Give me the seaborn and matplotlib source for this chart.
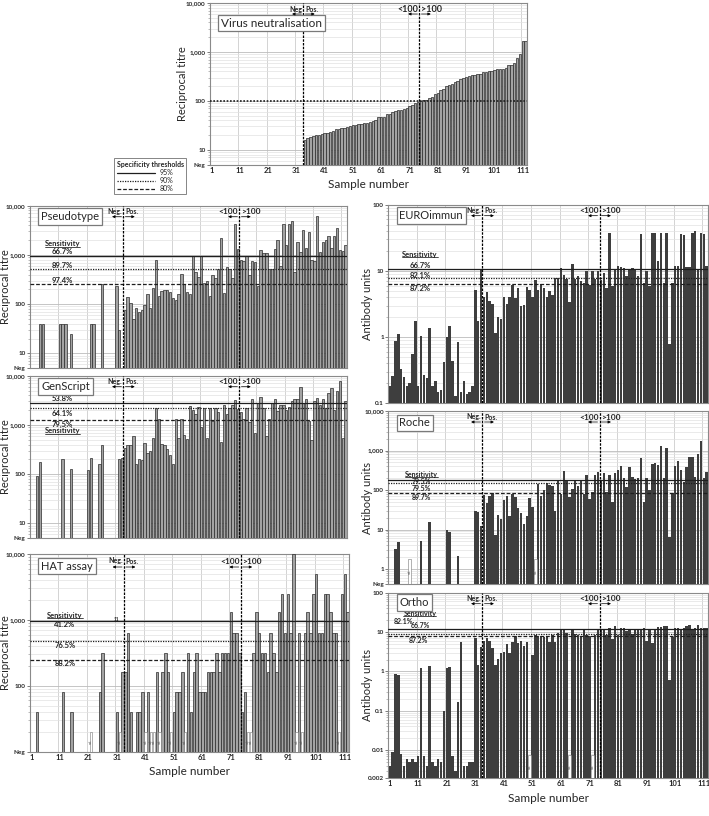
import numpy as np
import pandas as pd
import matplotlib
matplotlib.use("Agg")
import matplotlib.pyplot as plt
import seaborn as sns
from matplotlib.ticker import FixedLocator, NullFormatter, LogLocator
from matplotlib.lines import Line2D

sns.set_style("white")
plt.rcParams["font.family"] = ["Lato", "DejaVu Sans"]

N = None
sample_number = list(range(1, 113))
x_ticks = [1, 11, 21, 31, 41, 51, 61, 71, 81, 91, 101, 111]

# ---------------- data (samples 1-33 negative, 34-112 positive) -------------
vn_neg = [N, N, N, N, N, N, N, N, N, N, N, N, N, N, N, N, N, N, N, N,
          N, N, N, N, N, N, N, N, N, N, N, N, N]
vn_pos = [16, 17, 18, 19.5, 20, 20.5, 21, 22, 22.5, 23,
          24, 26, 27, 27.5, 28, 29, 30, 32, 32, 33,
          34, 35, 36, 37, 38, 40, 46, 46, 47, 53,
          55, 60, 62, 65, 66, 69, 72, 78, 84, 90,
          95, 100, 104, 106, 112, 118, 140, 145, 170, 175,
          200, 210, 220, 240, 260, 280, 300, 305, 320, 330,
          335, 350, 360, 380, 395, 405, 410, 420, 440, 445,
          450, 470, 540, 550, 600, 750, 900, 1650, 1650]

pseudo_neg = [N, N, N, 40, 40, N, N, N, N, N, 40, 40, 40, N, 25, N, N, N, N, N,
              N, 40, 40, N, N, 260, N, N, N, N, 230, 30, N]
pseudo_pos = [78, 140, 105, 50, 85, 68, 75, 95, 165, 85,
              210, 800, 150, 185, 190, 195, 180, 135, 120, 165,
              410, 260, 175, 160, 950, 450, 360, 950, 270, 300,
              145, 390, 340, 520, 2200, 170, 580, 530, 340, 4200,
              1300, 780, 760, 940, 390, 760, 720, 230, 1250, 1100,
              1100, 520, 530, 1350, 2000, 600, 4300, 1600, 4200, 5000,
              460, 1800, 1150, 3200, 1400, 2900, 800, 750, 6200, 1150,
              1800, 2000, 2400, 1400, 2400, 3500, 1250, 1200, 1600]

genscript_neg = [N, N, 90, 175, N, N, N, N, N, N, N, 205, N, N, 130, N, N, N, N, N,
                 120, 210, N, N, 160, 390, N, N, N, N, N, 205, 210]
genscript_pos = [340, 390, 390, 600, 165, 205, 195, 430, 265, 300,
                 550, 2200, 1300, 410, 390, 320, 250, 165, 1300, 550,
                 1300, 640, 510, 2400, 2000, 1700, 2300, 900, 2200, 550,
                 2200, 1200, 2200, 1800, 460, 2500, 1700, 2200, 2500, 3200,
                 2100, 1800, 1350, 2200, 1150, 3300, 700, 2800, 3700, 2200,
                 600, 1300, 2800, 3300, 1900, 2500, 2600, 2000, 2300, 3000,
                 3300, 3300, 6000, 2800, 3300, 1200, 490, 3100, 3500, 2500,
                 3300, 2200, 4500, 5500, 2000, 5000, 7800, 550, 3000]

hat_neg = [N, N, 40, N, N, N, N, N, N, N, N, 80, N, N, 40, N, N, N, N, N,
           N, N, N, N, 80, 320, N, N, N, N, 40, N, 160]
hat_pos = [160, 640, 40, N, 40, 40, 80, N, 80,
           N, N, 160, N, 160, 320, 160, N, 40, 80,
           80, 160, N, 320, 40, 160, 320, 80, 80, 80,
           160, 160, 160, 320, 160, 320, 320, 320, 1300, 640,
           640, 320, 40, 80, N, N, 320, 1300, 640, 320,
           320, 160, 640, 320, 160, 1300, 2500, 640, 2500, 640,
           10000, N, 640, N, 640, 1300, 640, 2500, 5000, 640,
           640, 2500, 2500, 1300, 640, 640, N, 2500, 5000, 1300]
hat_nd = [22, 32, 41, 43, 44, 46, 50, 55, 77, 78, 94, 96, 109]

euro_neg = [0.18, 0.26, 0.88, 1.1, 0.33, 0.25, 0.18, 0.2, 0.55, 1.75,
            0.18, 1.05, 0.27, 0.24, 1.35, 0.18, 0.22, 0.15, 0.16, 0.42,
            1.0, 1.45, 0.43, 0.13, 0.83, 0.15, 0.22, 0.14, 0.15, 0.18,
            5.2, 1.75, 10.5]
euro_pos = [4.0, 4.8, 3.5, 3.2, 1.15, 2.0, 1.9, 4.0, 3.2, 4.1,
            6.2, 3.9, 5.5, 3.0, 3.1, 5.8, 5.2, 4.0, 7.3, 5.2,
            6.4, 5.5, 4.0, 4.9, 4.4, 7.8, 7.7, 11, 8.6, 7.6,
            3.4, 12.5, 7.5, 8.4, 7.1, 6.5, 10, 6.1, 9.8, 7.6,
            9.9, 7.4, 9.4, 5.6, 38, 6, 10.5, 12, 11.5, 11,
            8.5, 10.5, 11, 10.5, 8.5, 36, 6.6, 9.8, 6, 37,
            38, 14, 38, 6.5, 37, 0.8, 6.5, 12, 12, 36,
            35, 11.5, 11.3, 38, 40, 10.5, 37, 36, 12]

roche_neg = [N, N, 3.2, 4.8, N, N, N, N, N, N, N, 5.2, N, N, 15.5, N, N, N, N, N,
             10, 8.8, N, N, 2.1, N, N, N, N, N, 30, 28, 12.5]
roche_pos = [75, 48, 70, 82, 7.2, 24, 18, 57, 72, 22,
             80, 65, 35, 27, 14, 22, 64, 38, N, 140,
             70, 100, 155, 135, 125, 30, 175, 80, 300, 170,
             65, 105, 175, 130, 165, 78, 240, 60, 90, 240,
             290, 180, 270, 90, 240, 50, 270, 320, 410, 200,
             120, 390, 215, 190, 200, 640, 50, 200, 100, 460,
             470, 430, 1300, 200, 1150, 6.5, 85, 400, 550, 330,
             160, 380, 670, 670, 210, 800, 1750, 200, 280]
roche_nd = [8, 52]

ortho_neg = [0.004, 0.009, 0.87, 0.8, 0.008, 0.004, 0.006, 0.005, 0.006, 0.005,
             0.007, 1.2, 0.007, 0.004, 1.4, 0.005, 0.004, 0.006, 0.005, 0.1,
             1.25, 1.3, 0.007, 0.003, 0.17, 5.7, 0.004, 0.004, 0.005, 0.005,
             7.0, 1.45, 4.3]
ortho_pos = [5.8, 7.2, 6.0, 4.0, 1.5, 2.1, 2.9, 3.2, 5.0, 3.0,
             5.5, 8.0, 5.3, 5.8, 4.5, 5.5, N, 2.6, 8.5, 8.0,
             8.0, 7.5, 8.0, 5.5, 8.5, 5.5, 9.5, 11.5, 11, 9.5,
             N, 12, 9, 8.5, 7.5, 12, 8.5, 8.0, N, 8.5,
             11, 12, 11, 8.5, 12.5, 6.5, 14, 8.5, 13, 12.5,
             10.5, 12, 9, 11.5, 11.5, 11, 12.5, 6, 11, 5.3,
             12, 13.5, 13.5, 14.5, 14, 0.6, 7.5, 13, 13, 12,
             12.5, 14, 15, 12, 13, 15, 12.5, 13, 12.5]
ortho_nd = [50, 64, 72]

# thresholds (95% solid, 90% dotted, 80% dashed)
pseudo_thr = [950, 524, 257]
genscript_thr = [2770, 2220, 1280]
hat_thr = [960, 483, 250]
euro_thr = [10.7, 7.9, 6.45]
roche_thr = [179, 148, 85.5]
ortho_thr = [11.9, 9.07, 8.07]
vn_cutoff = 100

neg_pos_line = 33.5
titre100_line = 74.5

# ---------------- figure ----------------
W, H = 709, 816
fig = plt.figure(figsize=(W / 100, H / 100), dpi=100)

def make_ax(l, r, t, b):
    return fig.add_axes([l / W, 1 - b / H, (r - l) / W, (b - t) / H])

LIGHT = "#a3a3a3"
DARK = "#3e3e3e"
THR_STYLES = ["-", (0, (1, 1)), (0, (3, 1.5))]
underlines = []

def panel(ax, values, face, edge, lw, ylim, yticks, ylabels, nd=(), nd_top=None):
    vals = [np.nan if v is None else v for v in values]
    df = pd.DataFrame({"sample": sample_number, "value": vals})
    sns.barplot(data=df, x="sample", y="value", native_scale=True, width=0.85,
                color=face, edgecolor=edge, linewidth=lw, saturation=1,
                errorbar=None, ax=ax, zorder=3)
    if nd:
        nd_vals = [nd_top if s in nd else np.nan for s in sample_number]
        df2 = pd.DataFrame({"sample": sample_number, "value": nd_vals})
        sns.barplot(data=df2, x="sample", y="value", native_scale=True, width=0.85,
                    color="white", edgecolor="#777777", linewidth=0.4, saturation=1,
                    errorbar=None, ax=ax, zorder=3)
        for s in nd:
            ax.text(s, np.sqrt(ylim[0] * nd_top), "n.d.", rotation=90, fontsize=2.2,
                    ha="center", va="center", color="#555555", zorder=5)
    ax.set_yscale("log")
    ax.set_ylim(*ylim)
    ax.set_xlim(0.5, 112.5)
    ax.yaxis.set_major_locator(FixedLocator(yticks))
    ax.set_yticklabels(ylabels)
    ax.yaxis.set_minor_locator(LogLocator(base=10, subs=np.arange(2, 10)))
    ax.yaxis.set_minor_formatter(NullFormatter())
    ax.set_xticks(x_ticks)
    ax.set_xticks(np.arange(0.5, 113, 10), minor=True)
    ax.set_xlabel("")
    ax.set_ylabel("")
    ax.grid(axis="y", which="major", color="#bbbbbb", lw=0.6, zorder=0)
    ax.grid(axis="y", which="minor", color="#e2e2e2", lw=0.5, zorder=0)
    ax.grid(axis="x", which="minor", color="#cccccc", lw=0.6, zorder=0)
    ax.grid(axis="x", which="major", visible=False)
    ax.set_axisbelow(True)
    for sp in ax.spines.values():
        sp.set_color("#8a8a8a")
        sp.set_linewidth(0.8)
    ax.tick_params(axis="y", which="major", labelsize=4.6, length=2, width=0.6, pad=1.2,
                   left=True, color="#666666")
    ax.tick_params(axis="y", which="minor", length=1.2, width=0.4, left=True, color="#888888")
    ax.tick_params(axis="x", which="both", length=0, labelsize=5.5, pad=2)
    for t in ax.get_yticklabels() + ax.get_xticklabels():
        t.set_fontweight("bold")

def title_box(ax, text, px_from_top, fs=8.5):
    h = ax.get_position().height * H
    ax.text(0.035, 1 - px_from_top / h, text, transform=ax.transAxes, fontsize=fs,
            va="center", ha="left", zorder=6,
            bbox=dict(boxstyle="square,pad=0.25", fc="white", ec="#7a7a7a", lw=0.9))

def divider(ax, x, left, right, fs, txt_px=6, arr_px=11):
    h = ax.get_position().height * H
    tr = ax.get_xaxis_transform()
    ax.axvline(x, color="black", lw=0.9, ls=(0, (2, 1)), zorder=5)
    yt = 1 - txt_px / h
    ya = 1 - arr_px / h
    ax.text(x - 0.4, yt, left, transform=tr, ha="right", va="center", fontsize=fs,
            fontweight="bold", zorder=6)
    ax.text(x + 0.6, yt, right, transform=tr, ha="left", va="center", fontsize=fs,
            fontweight="bold", zorder=6)
    ap = dict(arrowstyle="-|>", lw=0.5, color="black", mutation_scale=4, shrinkA=0, shrinkB=0)
    ax.annotate("", xy=(x - 4, ya), xytext=(x - 0.7, ya), xycoords=tr, textcoords=tr,
                arrowprops=ap, zorder=6)
    ax.annotate("", xy=(x + 4, ya), xytext=(x + 0.7, ya), xycoords=tr, textcoords=tr,
                arrowprops=ap, zorder=6)

def thresholds(ax, thr, labels, fs=5.5):
    for v, ls in zip(thr, THR_STYLES):
        ax.axhline(v, color="#1e1e1e", lw=0.9, ls=ls, zorder=4)
    for (x, y, s) in labels:
        t = ax.text(x, y, s, fontsize=fs, fontweight="bold", ha="center", va="center",
                    zorder=6)
        if s == "Sensitivity":
            underlines.append(t)

def ylab(ax, text, px_left):
    w = ax.get_position().width * W
    ax.set_ylabel(text, fontsize=8)
    ax.yaxis.set_label_coords(-px_left / w, 0.5)

def xlab(ax, px_below):
    h = ax.get_position().height * H
    ax.set_xlabel("Sample number", fontsize=8.5)
    ax.xaxis.set_label_coords(0.5, -px_below / h)

titre_ticks = [5, 10, 100, 1000, 10000]
titre_labels = ["Neg", "10", "100", "1,000", "10,000"]

# Virus neutralisation
ax_vn = make_ax(210, 527, 3, 164.5)
panel(ax_vn, vn_neg + vn_pos, LIGHT, "#2a2a2a", 0.5, (5, 10000), titre_ticks, titre_labels)
ax_vn.axhline(vn_cutoff, color="#1e1e1e", lw=1.2, ls=(0, (1, 1)), zorder=4)
title_box(ax_vn, "Virus neutralisation", 20)
divider(ax_vn, neg_pos_line, "Neg", "Pos.", 5)
divider(ax_vn, titre100_line, "<100", ">100", 6.5)
ax_vn.tick_params(axis="x", labelbottom=True)
ylab(ax_vn, "Reciprocal titre", 22)
xlab(ax_vn, 14)

# Pseudotype
ax_ps = make_ax(30, 347, 205.7, 368.3)
panel(ax_ps, pseudo_neg + pseudo_pos, LIGHT, "#2a2a2a", 0.5, (5, 10000), titre_ticks, titre_labels)
thresholds(ax_ps, pseudo_thr, [(11.9, 1675, "Sensitivity"), (11.9, 1167, "66.7%"),
                                (11.9, 615, "89.7%"), (11.9, 305, "97.4%")])
title_box(ax_ps, "Pseudotype", 11, 8)
divider(ax_ps, neg_pos_line, "Neg.", "Pos.", 5)
divider(ax_ps, titre100_line, "<100", ">100", 6)
ax_ps.tick_params(axis="x", labelbottom=False)
ylab(ax_ps, "Reciprocal titre", 19)

# GenScript
ax_gs = make_ax(30, 347, 375.7, 538.3)
panel(ax_gs, genscript_neg + genscript_pos, LIGHT, "#2a2a2a", 0.5, (5, 10000), titre_ticks, titre_labels)
thresholds(ax_gs, genscript_thr, [(11.9, 3376, "53.8%"), (11.9, 1728, "64.1%"),
                                   (11.9, 1030, "79.5%"), (11.9, 755, "Sensitivity")])
title_box(ax_gs, "GenScript", 11, 8)
divider(ax_gs, neg_pos_line, "Neg.", "Pos.", 5)
divider(ax_gs, titre100_line, "<100", ">100", 6)
ax_gs.tick_params(axis="x", labelbottom=False)
ylab(ax_gs, "Reciprocal titre", 19)

# HAT assay
ax_hat = make_ax(30, 349, 554, 751.7)
panel(ax_hat, hat_neg + hat_pos, LIGHT, "#2a2a2a", 0.5, (10, 10000),
      [10, 100, 1000, 10000], ["Neg", "100", "1,000", "10,000"], nd=hat_nd, nd_top=20)
thresholds(ax_hat, hat_thr, [(12.8, 1179, "Sensitivity"), (12.8, 860, "41.2%"),
                              (12.8, 402, "76.5%"), (12.8, 217, "88.2%")])
ax_hat.text(30.7, 1000, "11", fontsize=3.5, fontweight="bold", ha="center", va="center", zorder=6)
title_box(ax_hat, "HAT assay", 12, 8)
divider(ax_hat, neg_pos_line, "Neg.", "Pos.", 5, 7, 13)
divider(ax_hat, titre100_line, "<100", ">100", 6, 7, 13)
ax_hat.tick_params(axis="x", labelbottom=True)
ylab(ax_hat, "Reciprocal titre", 19)
xlab(ax_hat, 14)

# EUROimmun
ax_eu = make_ax(388.3, 708, 204.7, 403.3)
panel(ax_eu, euro_neg + euro_pos, DARK, "none", 0, (0.1, 100), [0.1, 1, 10, 100],
      ["0.1", "1", "10", "100"])
thresholds(ax_eu, euro_thr, [(11.6, 17.7, "Sensitivity"), (11.6, 11.9, "66.7%"),
                              (11.6, 8.5, "82.1%"), (11.6, 5.35, "87.2%")])
title_box(ax_eu, "EUROimmun", 11, 8)
divider(ax_eu, neg_pos_line, "Neg.", "Pos.", 5)
divider(ax_eu, titre100_line, "<100", ">100", 6)
ax_eu.tick_params(axis="x", labelbottom=False)
ylab(ax_eu, "Antibody units", 15)

# Roche
ax_ro = make_ax(388.3, 708, 411, 584)
panel(ax_ro, roche_neg + roche_pos, DARK, "none", 0, (0.42, 10000),
      [0.42, 1, 10, 100, 1000, 10000], ["Neg", "1", "10", "100", "1,000", "10,000"],
      nd=roche_nd, nd_top=1.8)
thresholds(ax_ro, roche_thr, [(12.2, 245, "Sensitivity"), (12.2, 160, "79.5%"),
                               (12.2, 112, "79.5%"), (12.2, 66, "89.7%")], fs=5)
title_box(ax_ro, "Roche", 12, 8)
divider(ax_ro, neg_pos_line, "Neg.", "Pos.", 5)
divider(ax_ro, titre100_line, "<100", ">100", 6)
ax_ro.tick_params(axis="x", labelbottom=False)
ylab(ax_ro, "Antibody units", 15)

# Ortho
ax_or = make_ax(388.3, 708, 592.7, 777.7)
panel(ax_or, ortho_neg + ortho_pos, DARK, "none", 0, (0.002, 100),
      [0.002, 0.01, 0.1, 1, 10, 100], ["0.002", "0.01", "0.1", "1", "10", "100"],
      nd=ortho_nd, nd_top=0.0075)
thresholds(ax_or, ortho_thr, [(11.6, 29.4, "Sensitivity"), (6, 19.1, "82.1%"),
                               (11.6, 14.6, "66.7%"), (11, 6.04, "87.2%")], fs=5)
title_box(ax_or, "Ortho", 10, 8)
divider(ax_or, neg_pos_line, "Neg.", "Pos.", 5)
divider(ax_or, titre100_line, "<100", ">100", 6)
ax_or.tick_params(axis="x", labelbottom=True)
ylab(ax_or, "Antibody units", 15)
xlab(ax_or, 15)

# Legend: specificity thresholds
handles = [Line2D([], [], color="#1e1e1e", lw=0.9, ls=ls) for ls in THR_STYLES]
leg = fig.legend(handles, ["95%", "90%", "80%"], title="Specificity thresholds",
                 loc="upper left", bbox_to_anchor=(111 / W, 1 - 155 / H),
                 fontsize=5, title_fontproperties={"weight": "bold", "size": 5},
                 frameon=True, fancybox=False, edgecolor="#666666", handlelength=5.5,
                 borderpad=0.35, labelspacing=0.15, handletextpad=0.6, alignment="left")
leg.get_frame().set_linewidth(0.7)

# underline "Sensitivity"
fig.canvas.draw()
inv = fig.transFigure.inverted()
for t in underlines:
    bb = t.get_window_extent()
    (x0, y0), (x1, _) = inv.transform([(bb.x0, bb.y0), (bb.x1, bb.y1)])
    fig.add_artist(Line2D([x0, x1], [y0 + 0.001, y0 + 0.001], transform=fig.transFigure,
                          color="black", lw=0.5))

fig.savefig("out.png", dpi=100)
